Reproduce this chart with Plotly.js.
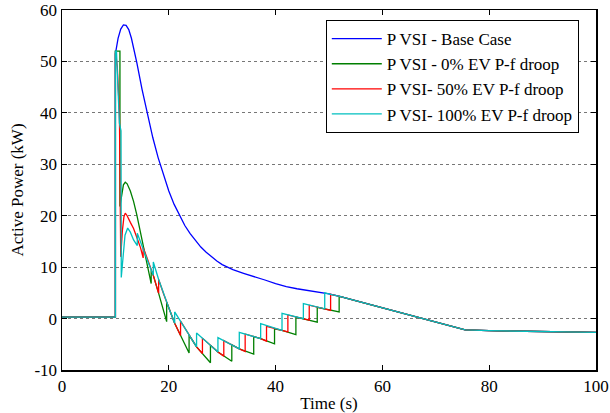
<!DOCTYPE html>
<html>
<head>
<meta charset="utf-8">
<script src="https://cdn.plot.ly/plotly-3.0.1.min.js"></script>
<style>html,body{margin:0;padding:0;background:#fff;}#chart{width:610px;height:413px;}</style>
</head>
<body>
<div id="chart"></div>
<script>
// Shared tail (all series coincide after ~52 s)
var tailT = [56, 60, 64, 68, 72, 75.5, 80, 85, 90, 95, 100];
var tailP = [3.2, 2.1, 1.0, -0.1, -1.2, -2.2, -2.35, -2.45, -2.55, -2.62, -2.7];

// Base case
var baseT = [0, 10, 10, 10.5, 11, 11.5, 12, 12.5, 13, 13.5, 14, 15, 16, 17, 18, 19, 20, 21, 22, 23, 24, 25, 26, 27, 28, 29, 30, 32, 34, 36, 38, 40, 42, 44, 46, 48, 50, 52];
var baseP = [0.3, 0.3, 51.5, 54.5, 56.3, 57.1, 57.0, 56.2, 54.5, 52.3, 49.8, 44.5, 39.6, 35.2, 31.3, 27.8, 24.8, 22.2, 20.0, 18.1, 16.5, 15.1, 13.9, 12.9, 12.0, 11.2, 10.5, 9.5, 8.8, 8.2, 7.5, 6.8, 6.2, 5.8, 5.5, 5.2, 4.8, 4.3];

// 0% EV P-f droop
var ev0T = [0, 10, 10, 10.85, 10.85, 11.2, 11.5, 11.85, 12.2, 12.8, 13.4, 14.0, 14.7, 15.0, 16.7, 16.7, 17.1, 18.1, 19.6, 19.6, 20.1, 21.1, 23.8, 23.8, 25.2, 27.8, 27.8, 29.2, 31.8, 31.8, 33.2, 35.9, 35.9, 37.2, 39.8, 39.8, 41.2, 43.8, 43.8, 45.2, 47.8, 47.8, 49.2, 51.9, 51.9, 52];
var ev0P = [0.3, 0.3, 52, 52, 21.8, 24.5, 26.0, 26.5, 26.2, 24.8, 22.8, 20.2, 16.7, 15.0, 6.8, 9.4, 8.4, 4.9, -0.6, 3.2, 1.8, -0.9, -6.7, -3.2, -5.5, -8.6, -5.2, -6.5, -8.3, -5.1, -5.9, -6.9, -3.5, -3.9, -4.9, -2.0, -2.3, -3.1, 0.3, 0.0, -0.7, 2.2, 1.9, 1.3, 4.2, 4.3];

// 50% EV P-f droop
var ev50T = [0, 10, 10, 10.35, 10.75, 10.95, 11.0, 11.3, 11.6, 11.85, 12.2, 12.8, 13.4, 14.0, 14.7, 15.2, 15.2, 16.0, 17.1, 18.1, 18.1, 19.1, 20.1, 21.1, 22.2, 22.2, 25.2, 26.3, 26.3, 29.2, 30.3, 30.3, 33.2, 34.3, 34.3, 37.2, 38.3, 38.3, 41.2, 42.3, 42.3, 45.2, 46.3, 46.3, 49.2, 50.3, 50.3, 52];
var ev50P = [0.3, 0.3, 52, 49, 40, 22, 12.0, 17.0, 19.8, 20.5, 20.0, 18.7, 17.5, 15.8, 13.8, 11.8, 13.8, 11.6, 8.4, 4.9, 7.6, 4.6, 1.8, -0.9, -3.3, -0.5, -5.5, -6.8, -3.8, -6.5, -7.3, -4.3, -5.9, -6.4, -3.0, -3.9, -4.4, -1.5, -2.3, -2.6, 0.7, 0.0, -0.3, 2.6, 1.9, 1.6, 4.7, 4.3];

// 100% EV P-f droop
var ev100T = [0, 10, 10, 10.2, 10.75, 11.05, 11.1, 11.4, 11.8, 12.3, 12.8, 13.4, 14.1, 14.1, 15.0, 16.0, 17.1, 17.1, 18.1, 19.1, 20.1, 21.1, 21.1, 25.2, 25.2, 29.2, 29.2, 33.2, 33.2, 37.2, 37.2, 41.2, 41.2, 45.2, 45.2, 49.2, 49.2, 50.3, 52];
var ev100P = [0.3, 0.3, 52, 52, 38, 36.5, 8.0, 12.0, 16.2, 17.6, 16.8, 15.3, 14.2, 16.6, 14.0, 11.3, 8.4, 11.0, 7.6, 4.6, 1.8, -0.9, 1.3, -5.5, -2.8, -6.5, -3.7, -5.9, -2.7, -3.9, -1.0, -2.3, 1.0, 0.0, 2.9, 1.9, 5.0, 4.7, 4.3];

var names = ['P VSI - Base Case', 'P VSI - 0% EV P-f droop', 'P VSI- 50% EV P-f droop', 'P VSI- 100% EV P-f droop'];
var colors = ['#0000ff', '#007f00', '#ff0000', '#00bfbf'];

var yTickVals = [-10, 0, 10, 20, 30, 40, 50, 60];
var yTickText = ['-10', '0', '10', '20', '30', '40', '50', '60'];
var xTickVals = [0, 20, 40, 60, 80, 100];
var xTickText = ['0', '20', '40', '60', '80', '100'];

var seriesT = [baseT, ev0T, ev50T, ev100T];
var seriesP = [baseP, ev0P, ev50P, ev100P];

var traces = seriesT.map(function (t, i) {
  return {
    x: t.concat(tailT),
    y: seriesP[i].concat(tailP),
    type: 'scatter',
    mode: 'lines',
    name: names[i],
    line: {color: colors[i], width: 1.3}
  };
});

var font = {family: 'Liberation Serif, Times New Roman, serif', size: 17, color: '#000'};

var layout = {
  width: 610, height: 413,
  margin: {l: 62, r: 14, t: 10, b: 43},
  paper_bgcolor: '#fff', plot_bgcolor: '#fff',
  font: font,
  showlegend: true,
  legend: {
    x: 0.494, y: 0.972, xanchor: 'left', yanchor: 'top',
    bgcolor: '#fff', bordercolor: '#000', borderwidth: 1,
    font: font, tracegroupgap: 0, itemwidth: 50
  },
  xaxis: {
    range: [0, 100], tickvals: xTickVals, ticktext: xTickText,
    ticks: 'inside', ticklen: 5, tickcolor: '#000',
    showline: true, linecolor: '#000', linewidth: 1.5, mirror: 'ticks',
    showgrid: false, zeroline: false,
    title: {text: 'Time (s)', font: font, standoff: 2},
    tickfont: font
  },
  yaxis: {
    range: [-10, 60], tickvals: yTickVals, ticktext: yTickText,
    ticks: 'inside', ticklen: 5, tickcolor: '#000',
    showline: true, linecolor: '#000', linewidth: 1.5, mirror: 'ticks',
    showgrid: true, gridcolor: '#777', griddash: 'dot', gridwidth: 1,
    zeroline: false,
    title: {text: 'Active Power (kW)', font: font, standoff: 6},
    tickfont: font
  }
};

Plotly.newPlot('chart', traces, layout, {displayModeBar: false, staticPlot: true});
</script>
</body>
</html>
